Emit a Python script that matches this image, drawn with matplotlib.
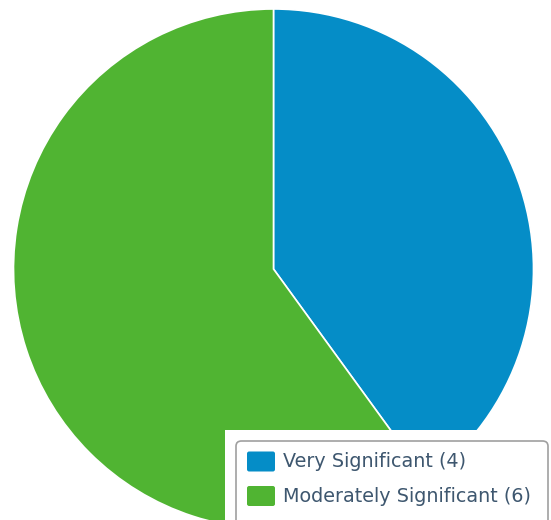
import matplotlib.pyplot as plt
from matplotlib.patches import FancyBboxPatch, Rectangle

W, H = 551, 520

labels = ["Very Significant", "Moderately Significant"]
counts = [4, 6]
colors = ["#058DC7", "#50B432"]

CX, CY, R = 273.5, 269, 260  # pie centre / radius in pixels (from top)


def fx(x):
    return x / W


def fy(y):
    return 1 - y / H


fig = plt.figure(figsize=(W / 100, H / 100), dpi=100, facecolor="white")
ax = fig.add_axes([0, 0, 1, 1])
wedges, _ = ax.pie(counts, colors=colors, startangle=90, counterclock=False,
                   wedgeprops=dict(edgecolor="white", linewidth=1.2))
ax.set_aspect("auto")
ax.set_xlim(-CX / R, (W - CX) / R)
ax.set_ylim(-(H - CY) / R, CY / R)
ax.axis("off")

# legend box (clipped by the bottom edge, as in the original)
fig.patches.append(Rectangle((fx(225), fy(530)), fx(W) - fx(225), fy(430) - fy(530),
                             transform=fig.transFigure, facecolor="white",
                             edgecolor="none", zorder=5))
fig.patches.append(FancyBboxPatch((fx(236), fy(530)), fx(548) - fx(236), fy(441) - fy(530),
                                  boxstyle="round,pad=0,rounding_size=0.01",
                                  transform=fig.transFigure, facecolor="white",
                                  edgecolor="#A0A0A0", linewidth=1.2, zorder=6))

rows_y = [461.5, 496]
for lab, n, col, y in zip(labels, counts, colors, rows_y):
    fig.patches.append(FancyBboxPatch((fx(247), fy(y + 10)), fx(275) - fx(247), fy(y - 10) - fy(y + 10),
                                      boxstyle="round,pad=0,rounding_size=0.004",
                                      transform=fig.transFigure, facecolor=col,
                                      edgecolor="none", zorder=7))
    fig.text(fx(283), fy(y), f"{lab} ({n})", ha="left", va="center",
             fontsize=13.8, color="#3E576F", zorder=8)

fig.savefig("out.png", dpi=100, facecolor="white")
